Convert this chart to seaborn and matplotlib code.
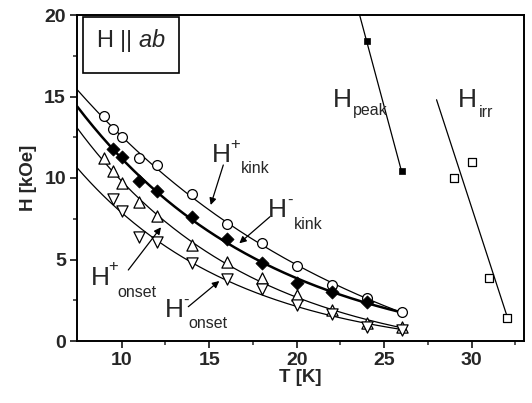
import numpy as np
import pandas as pd
import matplotlib
matplotlib.use("Agg")
import matplotlib.pyplot as plt
import seaborn as sns
from matplotlib.patches import Rectangle

# ---- data ----
T_kink_plus = [9, 9.5, 10, 11, 12, 14, 16, 18, 20, 22, 24, 26]
H_kink_plus = [13.8, 13.0, 12.5, 11.2, 10.8, 9.0, 7.2, 6.0, 4.6, 3.44, 2.66, 1.8]

T_kink_minus = [9.5, 10, 11, 12, 14, 16, 18, 20, 22, 24]
H_kink_minus = [11.8, 11.3, 9.8, 9.2, 7.6, 6.24, 4.8, 3.58, 2.99, 2.41]

T_onset_plus = [9, 9.5, 10, 11, 12, 14, 16, 18, 20, 22, 24, 26]
H_onset_plus = [11.2, 10.45, 9.7, 8.5, 7.67, 5.9, 4.87, 3.84, 2.85, 1.9, 1.08, 0.84]

T_onset_minus = [9.5, 10, 11, 12, 14, 16, 18, 20, 22, 24, 26]
H_onset_minus = [8.7, 7.97, 6.4, 6.07, 4.77, 3.78, 3.17, 2.18, 1.64, 0.84, 0.67]

T_peak = [24, 26]
H_peak = [18.4, 10.4]

T_irr = [29, 30, 31, 32]
H_irr = [10.0, 11.0, 3.85, 1.4]

x_ticks = [10, 15, 20, 25, 30]
y_ticks = [0, 5, 10, 15, 20]

# ---- style ----
sns.set_style("ticks")
plt.rcParams['font.family'] = ['Liberation Sans', 'DejaVu Sans']
plt.rcParams['mathtext.fontset'] = 'custom'
plt.rcParams['mathtext.rm'] = 'Liberation Sans'
plt.rcParams['mathtext.it'] = 'Liberation Sans:italic'

W, Hh = 532, 403
fig = plt.figure(figsize=(W / 100, Hh / 100), dpi=100)
ax = fig.add_axes([77 / W, 1 - 341 / Hh, (524 - 77) / W, (341 - 15) / Hh])

def fp(x, y):
    return (x / W, 1 - y / Hh)

XMIN, XMAX = 7.44, 33.0

# fitted curves: H = a*exp(-b*T) + c, least squares over a grid of b
def fit_curve(T, H, t0, t1, end=None):
    T = np.asarray(T, float)
    H = np.asarray(H, float)
    if end is not None:
        T = np.append(T, end[0])
        H = np.append(H, end[1])
    best = None
    for b in np.linspace(0.01, 0.4, 400):
        A = np.column_stack([np.exp(-b * T), np.ones_like(T)])
        coef, *_ = np.linalg.lstsq(A, H, rcond=None)
        r = np.sum((A @ coef - H) ** 2)
        if best is None or r < best[0]:
            best = (r, b, coef)
    _, b, (a, c) = best
    t = np.linspace(t0, t1, 200)
    return pd.DataFrame({"T": t, "H": a * np.exp(-b * t) + c})

curves = [
    (T_kink_plus, H_kink_plus, 0.9, None),
    (T_kink_minus, H_kink_minus, 1.8, (T_kink_plus[-1], H_kink_plus[-1])),
    (T_onset_plus, H_onset_plus, 0.9, None),
    (T_onset_minus, H_onset_minus, 0.9, None),
]
for T, H, lw, end in curves:
    d = fit_curve(T, H, XMIN, 26, end)
    sns.lineplot(data=d, x="T", y="H", color="black", lw=lw, ax=ax, sort=False)

# peak line: linear through the points, extended to the top
cp = np.polyfit(T_peak, H_peak, 1)
t_top = (20 - cp[1]) / cp[0]
tp = np.linspace(t_top, 26, 50)
sns.lineplot(x=tp, y=np.polyval(cp, tp), color="black", lw=0.9, ax=ax)

ci = np.polyfit(T_irr, H_irr, 1)
ti = np.linspace(28, 32, 50)
sns.lineplot(x=ti, y=np.polyval(ci, ti), color="black", lw=0.9, ax=ax)

# markers
sns.scatterplot(x=T_kink_plus, y=H_kink_plus, marker="o", s=50, facecolor="white",
                edgecolor="black", linewidth=0.9, ax=ax, zorder=3)
sns.scatterplot(x=T_kink_minus, y=H_kink_minus, marker="D", s=45, color="black",
                edgecolor="black", linewidth=0.5, ax=ax, zorder=4)
sns.scatterplot(x=T_onset_plus, y=H_onset_plus, marker="^", s=65, facecolor="white",
                edgecolor="black", linewidth=0.9, ax=ax, zorder=3)
sns.scatterplot(x=T_onset_minus, y=H_onset_minus, marker="v", s=65, facecolor="white",
                edgecolor="black", linewidth=0.9, ax=ax, zorder=3)
sns.scatterplot(x=T_peak, y=H_peak, marker="s", s=18, color="black",
                edgecolor="black", linewidth=0.5, ax=ax, zorder=3)
sns.scatterplot(x=T_irr, y=H_irr, marker="s", s=36, facecolor="white",
                edgecolor="black", linewidth=0.9, ax=ax, zorder=3)

ax.set_xlim(XMIN, XMAX)
ax.set_ylim(0, 20)
ax.set_xticks(x_ticks)
ax.set_yticks(y_ticks)
ax.set_xticks(np.arange(12.5, 33, 5), minor=True)
ax.set_yticks(np.arange(2.5, 20, 5), minor=True)
ax.tick_params(axis="both", which="major", direction="out", length=5, width=1.3,
               labelsize=14, top=False, right=False, pad=3)
ax.tick_params(axis="both", which="minor", direction="out", length=3, width=1.1,
               top=False, right=False)
for lab in ax.get_xticklabels() + ax.get_yticklabels():
    lab.set_fontweight("bold")
for sp in ax.spines.values():
    sp.set_linewidth(1.4)
    sp.set_visible(True)
    sp.set_color("black")

ax.set_xlabel("T [K]", fontsize=13.5, fontweight="bold", labelpad=0)
ax.set_ylabel("H [kOe]", fontsize=13.5, fontweight="bold", labelpad=5)

# box label
fig.patches.append(Rectangle(fp(82.7, 73.3), (179.3 - 82.7) / W, (73.3 - 17.3) / Hh,
                             transform=fig.transFigure, fill=False, lw=1.2,
                             edgecolor="black"))
fig.text(*fp(131, 47), r"H || $\it{ab}$", fontsize=17, ha="center", va="baseline")

BIG, SMALL, SUP = 19, 11.5, 12

def label(hx, hy, sub, sx, sy, sup=None, ux=None, uy=None):
    fig.text(*fp(hx, hy), "H", fontsize=BIG, ha="left", va="baseline")
    fig.text(*fp(sx, sy), sub, fontsize=SMALL, ha="left", va="baseline")
    if sup is not None:
        fig.text(*fp(ux, uy), sup, fontsize=SUP, ha="center", va="center")

label(211.5, 161.7, "kink", 240.7, 173.3, "+", 235.5, 145)
label(268.0, 217.3, "kink", 294, 229.3, "-", 290, 200)
label(90.5, 285, "onset", 117.3, 296.7, "+", 113, 266)
label(165.0, 316.7, "onset", 188.3, 328, "-", 185.5, 300)
label(333.0, 106.7, "peak", 353.3, 115.5)
label(458.0, 106.7, "irr", 479.3, 117)

arrows = [((223.3, 165), (210.7, 205)),
          ((270, 216.7), (239.3, 243.3)),
          ((128.3, 270), (161, 227.3)),
          ((188.3, 306.7), (219.3, 281))]
for tail, head in arrows:
    ax.annotate("", xy=fp(*head), xycoords="figure fraction",
                xytext=fp(*tail), textcoords="figure fraction",
                arrowprops=dict(arrowstyle="-|>", color="black", lw=0.9,
                                mutation_scale=10, shrinkA=0, shrinkB=0))

fig.savefig("out.png", dpi=100)
